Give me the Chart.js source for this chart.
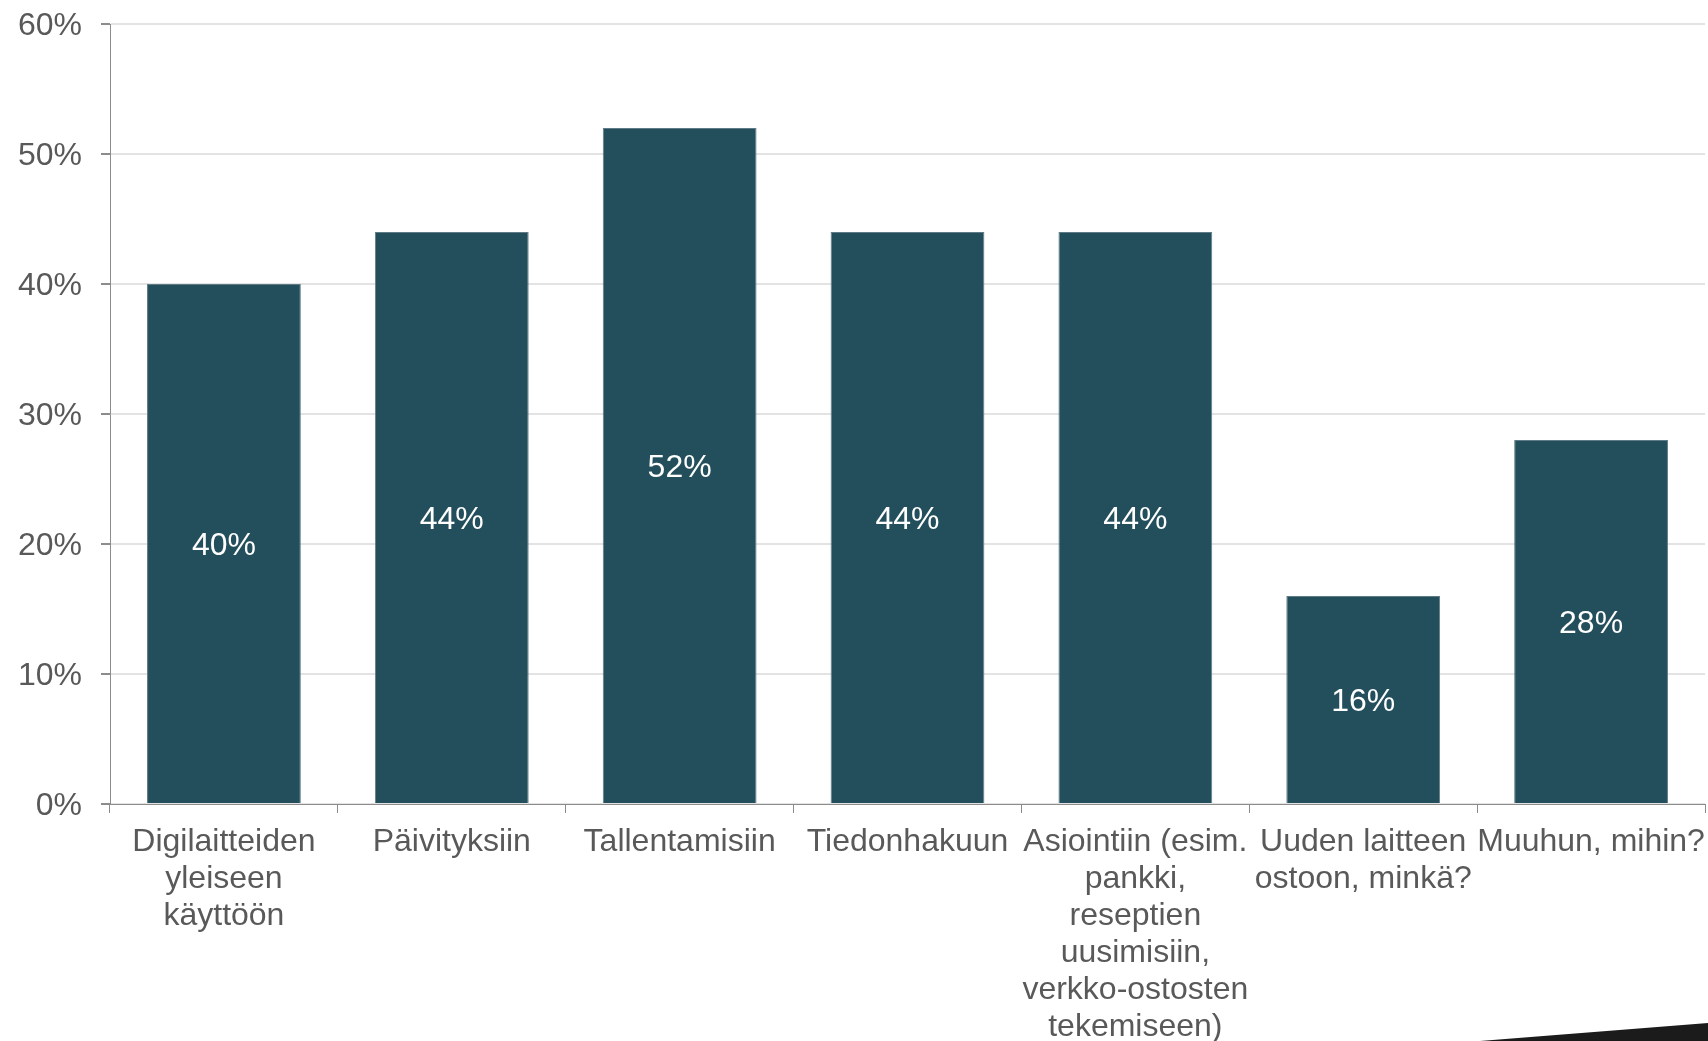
<!DOCTYPE html>
<html>
<head>
<meta charset="utf-8">
<script src="https://cdn.jsdelivr.net/npm/chart.js@4.4.1/dist/chart.umd.min.js"></script>
<style>
	html, body { margin: 0; padding: 0; background: #ffffff; }
	#wrap { width: 1708px; height: 1041px; position: relative; }
</style>
</head>
<body>
<div id="wrap"><canvas id="chart"></canvas></div>
<script>
const categories = [
	["Digilaitteiden", "yleiseen", "käyttöön"],
	"Päivityksiin",
	"Tallentamisiin",
	"Tiedonhakuun",
	["Asiointiin (esim.", "pankki,", "reseptien", "uusimisiin,", "verkko-ostosten", "tekemiseen)"],
	["Uuden laitteen", "ostoon, minkä?"],
	"Muuhun, mihin?",
];
const shares = [40, 44, 52, 44, 44, 16, 28];
const yTicks = [0, 10, 20, 30, 40, 50, 60];

const FONT = "'Liberation Sans', Arial, sans-serif";
const BAR = "#234e5c";
const TEXT = "#595959";
const AXIS = "#8c8c8c";

// white value labels in the middle of each bar
const valueLabels = {
	id: "valueLabels",
	afterDatasetsDraw(chart) {
		const { ctx } = chart;
		const meta = chart.getDatasetMeta(0);
		ctx.save();
		ctx.fillStyle = "#ffffff";
		ctx.font = `32px ${FONT}`;
		ctx.textAlign = "center";
		ctx.textBaseline = "middle";
		meta.data.forEach((bar, i) => {
			const mid = (bar.y + bar.base) / 2 + 3;
			ctx.fillText(`${shares[i]}%`, bar.x, mid);
		});
		ctx.restore();
	},
};

// dark wedge in the bottom right corner of the slide
const cornerWedge = {
	id: "cornerWedge",
	afterDraw(chart) {
		const { ctx, width, height } = chart;
		ctx.save();
		ctx.fillStyle = "#1b1b1b";
		ctx.beginPath();
		ctx.moveTo(width - 228, height);
		ctx.lineTo(width, height - 18);
		ctx.lineTo(width, height);
		ctx.closePath();
		ctx.fill();
		ctx.restore();
	},
};

new Chart(document.getElementById("chart").getContext("2d"), {
	type: "bar",
	data: {
		labels: categories,
		datasets: [
			{
				data: shares,
				backgroundColor: BAR,
				borderColor: "#5f7c86",
				borderWidth: 1,
				barPercentage: 0.675,
				categoryPercentage: 1,
			},
		],
	},
	options: {
		responsive: true,
		maintainAspectRatio: false,
		animation: false,
		layout: { padding: { top: 24, right: 3, bottom: 0, left: 0 } },
		plugins: {
			legend: { display: false },
			tooltip: { enabled: false },
		},
		scales: {
			x: {
				grid: {
					drawOnChartArea: false,
					drawTicks: true,
					tickLength: 9,
					tickColor: AXIS,
				},
				border: { color: AXIS, width: 1 },
				ticks: {
					color: TEXT,
					font: { family: FONT, size: 32, lineHeight: 1.156 },
					maxRotation: 0,
					minRotation: 0,
					autoSkip: false,
					padding: 11,
				},
				afterFit(scale) {
					scale.height = 237;
					scale.paddingLeft = 0;
					scale.paddingRight = 0;
				},
			},
			y: {
				min: 0,
				max: 60,
				afterBuildTicks(scale) {
					scale.ticks = yTicks.map((v) => ({ value: v }));
				},
				grid: {
					color: "#e3e3e3",
					lineWidth: 2,
					tickLength: 9,
					tickColor: AXIS,
				},
				border: { color: AXIS, width: 1 },
				ticks: {
					color: TEXT,
					font: { family: FONT, size: 32 },
					padding: 19,
					labelOffset: 2,
					callback: (v) => `${v}%`,
				},
				afterFit(scale) {
					scale.width = 110;
					scale.paddingTop = 0;
					scale.paddingBottom = 0;
				},
			},
		},
	},
	plugins: [valueLabels, cornerWedge],
});
</script>
</body>
</html>
